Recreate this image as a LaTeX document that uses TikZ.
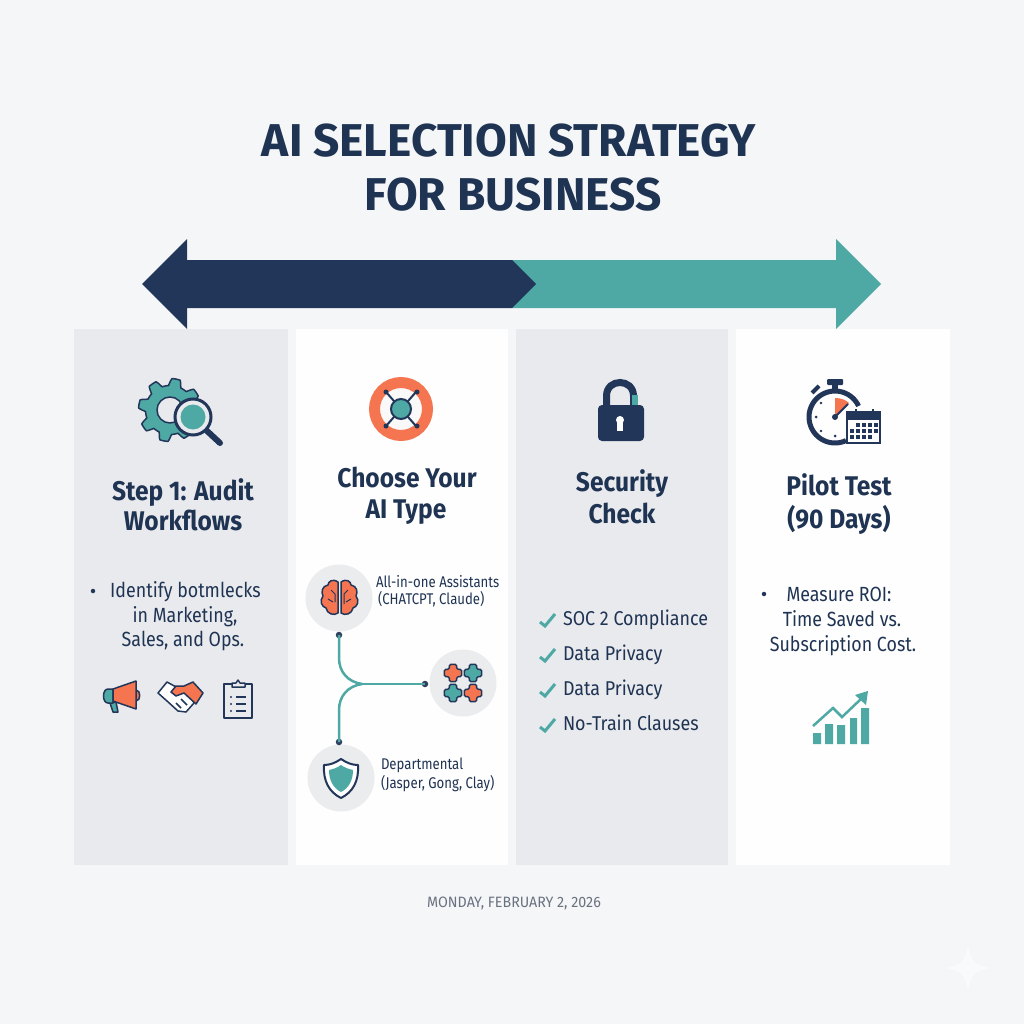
\documentclass[tikz,border=0pt]{standalone}
\usepackage{fontspec}
\setmainfont{Fira Sans}
\newfontfamily\headf[FakeStretch=0.91]{Fira Sans}
\newfontfamily\bodyf[FakeStretch=0.87]{Fira Sans}
\newfontfamily\chkf[FakeStretch=0.895]{Fira Sans}
\newfontfamily\smallf[FakeStretch=0.85]{Fira Sans}
\newfontfamily\datef[FakeStretch=0.95]{Fira Sans}
\usetikzlibrary{arrows.meta}
\definecolor{navy}{HTML}{22365A}
\definecolor{textnavy}{HTML}{1F3353}
\definecolor{teal1}{HTML}{4EA9A4}
\definecolor{orng}{HTML}{F4754F}
\definecolor{bgc}{HTML}{F5F6F8}
\definecolor{panelg}{HTML}{E9EAED}
\definecolor{panelw}{HTML}{FEFEFE}
\definecolor{disc}{HTML}{EBECEE}
\definecolor{dategray}{HTML}{6A7280}
\tikzset{
 x=1pt,y=-1pt,
 every node/.style={inner sep=0pt,outer sep=0pt,text=textnavy},
 maintitle/.style={anchor=base,font=\fontsize{46}{46}\selectfont\bfseries},
 head/.style={anchor=base,font=\headf\fontsize{27}{27}\selectfont\bfseries},
 body/.style={anchor=base,font=\bodyf\fontsize{20.5}{20.5}\selectfont},
 chkitem/.style={anchor=base west,font=\chkf\fontsize{20}{20}\selectfont},
 small/.style={anchor=base west,font=\smallf\fontsize{15.5}{15.5}\selectfont},
 bulletdot/.style={circle,fill=navy,minimum size=4.5pt},
 linkdot/.style={circle,fill=navy!85!gray,minimum size=6.5pt},
 linkline/.style={draw=teal1,line width=2.5pt},
 disc/.style={circle,fill=disc,minimum size=67pt},
 panelG/.style={fill=panelg},
 panelW/.style={fill=panelw},
 checkm/.style={draw=teal1,line width=3pt},
 ic/.style={draw=navy,line width=1.5pt,line join=round},
}
\newcommand{\chkmark}[1]{\draw[checkm] (540,{#1-3}) -- (545,{#1+1}) -- (555,{#1-11});}
\newcommand{\plusshape}[3]{\filldraw[ic,fill=#3,rounded corners=1.5pt] ({#1-3.7},{#2-8.7}) -- ({#1+3.7},{#2-8.7}) -- ({#1+3.7},{#2-3.7}) -- ({#1+8.7},{#2-3.7}) -- ({#1+8.7},{#2+3.7}) -- ({#1+3.7},{#2+3.7}) -- ({#1+3.7},{#2+8.7}) -- ({#1-3.7},{#2+8.7}) -- ({#1-3.7},{#2+3.7}) -- ({#1-8.7},{#2+3.7}) -- ({#1-8.7},{#2-3.7}) -- ({#1-3.7},{#2-3.7}) -- cycle;}
\begin{document}
\begin{tikzpicture}
\useasboundingbox (0,0) rectangle (1024,1024);
\fill[bgc] (0,0) rectangle (1024,1024);
% sparkle
\fill[white,opacity=.45] (968,945) .. controls (970,960) and (975,966) .. (991,968) .. controls (975,970) and (970,976) .. (968,991) .. controls (966,976) and (961,970) .. (945,968) .. controls (961,966) and (966,960) .. (968,945) -- cycle;
% panels
\fill[panelG] (74,329) rectangle (288,865);
\fill[panelW] (296,329) rectangle (508,865);
\fill[panelG] (516,329) rectangle (728,865);
\fill[panelW] (736,329) rectangle (950,865);
% title
\node[maintitle] (t1) at (509,157) {AI SELECTION STRATEGY};
\node[maintitle] (t2) at (513,211) {FOR BUSINESS};
% double arrow
\fill[teal1] (512,260) -- (836,260) -- (836,239) -- (881,284) -- (836,329) -- (836,308) -- (512,308) -- cycle;
\fill[navy] (142,284) -- (187,239) -- (187,260) -- (512,260) -- (536,284) -- (512,308) -- (187,308) -- (187,329) -- cycle;
% --- column 1
\filldraw[ic,fill=teal1] plot[smooth cycle,samples=96,domain=0:356.25] ({170+(28+3.5*max(-1,min(1,2.5*sin(8*\x))))*cos(\x)},{410+(28+3.5*max(-1,min(1,2.5*sin(8*\x))))*sin(\x)});
\filldraw[ic,fill=panelg] (170,410) circle (13);
\draw[navy,line width=6pt,line cap=round] (206,430) -- (220,443);
\filldraw[draw=navy,line width=3pt,fill=panelg] (193,417) circle (18);
\fill[teal1] (193,417) circle (12.5);
\node[head] (h1a) at (183,500) {Step 1: Audit};
\node[head] (h1b) at (183,530) {Workflows};
\node[bulletdot] (b1) at (93,591) {};
\node[body] (c1a) at (185.5,597) {Identify botmlecks};
\node[body] (c1b) at (185,622) {in Marketing,};
\node[body] (c1c) at (183,646) {Sales, and Ops.};
% megaphone
\filldraw[ic,fill=orng] (136,690) .. controls (141,690) and (141,701) .. (136,701) -- cycle;
\filldraw[ic,fill=teal1] (110,703) -- (116,702) -- (118,712) -- (113,712) -- cycle;
\filldraw[ic,fill=teal1] (113,689) -- (108,689) .. controls (102,689) and (102,703) .. (108,703) -- (113,703) -- cycle;
\filldraw[ic,fill=orng] (113,689) -- (136,681) -- (136,709) -- (113,701) -- cycle;
% handshake
\filldraw[ic,fill=white] (158,693) -- (167,682) -- (178,688) -- (192,698) -- (194,703) -- (186,712) -- (178,711) -- (167,701) -- cycle;
\filldraw[ic,fill=orng] (203,693) -- (193,682) -- (184,686) -- (176,686) -- (171,692) -- (176,696) -- (184,693) -- (196,704) -- cycle;
\draw[ic] (176,703) -- (181,708) (181,699) -- (187,705);
% clipboard
\draw[ic] (224,684) rectangle (252,718);
\filldraw[ic,fill=panelg] (232,687) -- (232,683) -- (236,683) -- (238,680) -- (240,683) -- (245,683) -- (245,687) -- cycle;
\fill[navy] (231,697) circle (1.2) (231,704) circle (1.2) (231,711) circle (1.2);
\draw[ic] (236,697) -- (246,697) (236,704) -- (246,704) (236,711) -- (246,711);
% --- column 2
\draw[orng,line width=11pt,fill=white!70!disc] (401,409) circle (26.5);
\draw[navy,line width=2pt] (386,392) -- (416,426) (416,392) -- (386,426);
\fill[navy] (386,392) circle (2.5) (417,392) circle (2.5) (386,426) circle (2.5) (417,426) circle (2.5);
\filldraw[draw=navy,line width=2pt,fill=teal1] (401,409) circle (10);
\node[head] (h2a) at (407,487) {Choose Your};
\node[head] (h2b) at (406,518) {AI Type};
\node[disc] (brainD) at (339,598) {};
\node[disc] (puzD) at (463,683) {};
\node[disc] (shieldD) at (341,778) {};
\node[linkdot] (d1) at (339,635) {};
\node[linkdot] (d2) at (425,684) {};
\node[linkdot] (d3) at (339,742) {};
\coordinate (jn) at (362,684);
\draw[linkline] (d1.center) -- (339,658) .. controls (339,672) and (348,682) .. (jn);
\draw[linkline] (d3.center) -- (339,710) .. controls (339,696) and (348,686) .. (jn);
\draw[linkline] (jn) -- (d2.center);
% brain
\filldraw[ic,fill=orng] (338,582) .. controls (332,578) and (328,582) .. (328,585) .. controls (322,586) and (321,592) .. (323,596) .. controls (319,601) and (322,607) .. (326,608) .. controls (327,614) and (334,616) .. (338,613) -- cycle;
\filldraw[ic,fill=orng] (341,582) .. controls (347,578) and (351,582) .. (351,585) .. controls (357,586) and (358,592) .. (356,596) .. controls (360,601) and (357,607) .. (353,608) .. controls (352,614) and (345,616) .. (341,613) -- cycle;
\draw[navy,line width=1pt] (331,590) -- (335,594) -- (335,602) (328,599) -- (333,602) (348,590) -- (344,594) -- (344,604) (351,599) -- (346,602);
% puzzle
\plusshape{453}{673}{orng}
\plusshape{473}{673}{teal1}
\plusshape{453}{693}{teal1}
\plusshape{473}{693}{orng}
% shield
\filldraw[draw=navy,line width=2pt,fill=white,line join=round] (341,759) .. controls (347,763) and (352,765) .. (358,765) .. controls (359,781) and (353,792) .. (341,798) .. controls (329,792) and (323,781) .. (324,765) .. controls (330,765) and (335,763) .. (341,759) -- cycle;
\fill[teal1] (341,765) .. controls (345,768) and (349,769) .. (353,770) .. controls (353,780) and (349,788) .. (341,792) .. controls (333,788) and (329,780) .. (329,770) .. controls (333,769) and (337,768) .. (341,765) -- cycle;
\node[small] (l1a) at (376,587) {All-in-one Assistants};
\node[small] (l1b) at (378,604) {(CHATCPT, Claude)};
\node[small] (l2a) at (381,769) {Departmental};
\node[small] (l2b) at (381,788) {(Jasper, Gong, Clay)};
% --- column 3
\draw[navy,line width=7pt] (606.5,405) -- (606.5,396) .. controls (606.5,378) and (633.5,378) .. (633.5,396) -- (633.5,405);
\fill[teal1] (632,395) rectangle (638,405);
\fill[navy,rounded corners=4pt] (598,405) rectangle (644,441);
\fill[white] (620,420) circle (4);
\fill[white] (617,421) rectangle (623,431);
\node[head] (h3a) at (622,491) {Security};
\node[head] (h3b) at (622,523) {Check};
\chkmark{625}\chkmark{660}\chkmark{695}\chkmark{730}
\node[chkitem] (k1) at (563,625) {SOC 2 Compliance};
\node[chkitem] (k2) at (563,660) {Data Privacy};
\node[chkitem] (k3) at (563,695) {Data Privacy};
\node[chkitem] (k4) at (563,730) {No-Train Clauses};
% --- column 4
\fill[navy,rounded corners=1pt] (827,379) rectangle (843,385);
\fill[navy] (832,385) rectangle (838,391);
\draw[navy,line width=4pt] (812,393) -- (819,386);
\draw[navy,line width=5pt] plot[smooth,samples=50,domain=65:335] ({835+26*cos(\x)},{417+26*sin(\x)});
\fill[orng] (835,417) -- (835,398) .. controls (841,398) and (846,400) .. (849,403) -- cycle;
\draw[navy,line width=2pt] (835,417) -- (848,404);
\fill[navy] (835,417) circle (3);
\fill[navy] (816,417) circle (1.5) (835,436) circle (1.5) (821,403) circle (1.3) (821,431) circle (1.3);
\filldraw[draw=navy,line width=1.5pt,fill=panelw] (847,412) rectangle (880,443);
\fill[navy] (847,412) rectangle (880,420);
\draw[navy,line width=2pt] (856,409) -- (856,415) (873,409) -- (873,415);
\foreach \yy/\xs in {425/{858,864,870,876},431/{852,858,864,870,876},437/{852,858,864,870}}{
  \foreach \xx in \xs {\fill[navy] (\xx-1.8,\yy-1.8) rectangle (\xx+1.8,\yy+1.8);}
}
\node[head] (h4a) at (839,495) {Pilot Test};
\node[head] (h4b) at (839,528) {(90 Days)};
\node[bulletdot] (b4) at (764,594) {};
\node[body] (c4a) at (839,601) {Measure ROI:};
\node[body] (c4b) at (842,626) {Time Saved vs.};
\node[body] (c4c) at (843,651) {Subscription Cost.};
\fill[teal1] (813,733) rectangle (821,744) (825,724) rectangle (833,744) (837,725) rectangle (845,744) (850,718) rectangle (857,744) (861,708) rectangle (869,744);
\draw[teal1,line width=2.5pt] (813,726) -- (833,708) -- (842,717) -- (862,698);
\fill[teal1] (868,691) -- (855,695) -- (866,705) -- cycle;
% date
\node[anchor=base,font=\datef\fontsize{15}{15}\selectfont,text=dategray] (date) at (514,907) {MONDAY, FEBRUARY 2, 2026};
\end{tikzpicture}
\end{document}
